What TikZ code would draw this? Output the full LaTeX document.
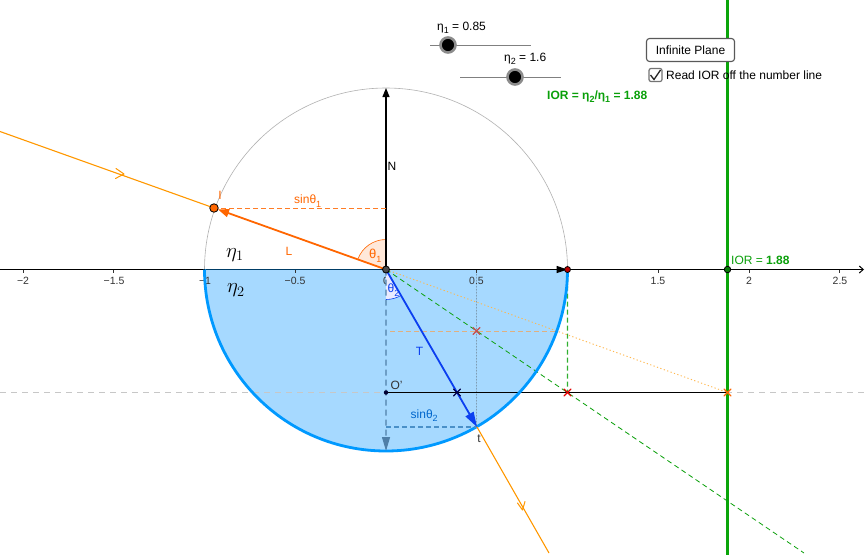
\documentclass[tikz,border=0pt]{standalone}
\usepackage{fontspec}
\setmainfont{Liberation Sans}
\usetikzlibrary{arrows.meta,calc}
\definecolor{ray}{HTML}{FF9800}
\definecolor{dray}{HTML}{FF6600}
\definecolor{tblue}{HTML}{0B3FF0}
\definecolor{cblue}{HTML}{0099FF}
\definecolor{lblue}{HTML}{A6D9FF}
\definecolor{lblT}{HTML}{0066CC}
\definecolor{iorgreen}{HTML}{0AA00A}
\definecolor{linegreen}{HTML}{0AA50A}
\definecolor{dashgreen}{HTML}{30B030}
\definecolor{normdash}{HTML}{4F7FA8}
\definecolor{sindash}{HTML}{4A90C8}
\definecolor{beige}{HTML}{E0B080}
\newcommand{\lowered}[1]{\raisebox{-0.28em}{#1}}
\tikzset{
 lab/.style={font=\fontsize{12}{14}\selectfont,inner sep=0pt},
 tick/.style={font=\fontsize{10.5}{12}\selectfont,inner sep=0pt,text=black!80},
 pt/.style={circle,draw=black,line width=0.8pt,minimum size=6.5pt,inner sep=0pt},
 xmark/.style={line width=1.2pt,line cap=round},
 chev/.style={draw=ray,line width=1pt,line cap=round,line join=round},
 knob/.style={circle,fill=black,draw=black!45,line width=2.6pt,minimum size=15pt,inner sep=0pt},
 sliderline/.style={draw=black!50,line width=0.7pt},
}
\newcommand{\xmk}[3]{\draw[xmark,#1] ($(#2)+(-#3,-#3)$) -- ($(#2)+(#3,#3)$) ($(#2)+(-#3,#3)$) -- ($(#2)+(#3,-#3)$);}
\begin{document}
\begin{tikzpicture}[x=1pt,y=-1pt]
\useasboundingbox (0,0) rectangle (867,555);
\fill[white] (0,0) rectangle (867,555);
\coordinate (O) at (386,269.5);
\coordinate (R) at (567.5,269.5);
\coordinate (L) at (204.5,269.5);
\coordinate (I) at (214,208);
\coordinate (It) at (386,208);
\coordinate (T) at (477,427);
\coordinate (Tf) at (386,427);
\coordinate (Top) at (386,88);
\coordinate (Bot) at (386,451);
\coordinate (OP) at (386,392.5);
\coordinate (Xa) at (457,392.5);
\coordinate (Xb) at (567.5,392.5);
\coordinate (Xc) at (727.5,392.5);
\coordinate (Xd) at (476.5,331);
\coordinate (Xe) at (556,331);
\coordinate (Far) at (0,131.5);
\coordinate (Tfar) at (549,553);
\coordinate (Gfar) at (804,553);
% semicircle and circle
\draw[black!30,line width=0.6pt] (L) arc[start angle=180,end angle=360,radius=181.5];
\fill[lblue] (L) arc[start angle=180,end angle=0,radius=181.5] -- cycle;
% background dashed line
\draw[black!22,dash pattern=on 6pt off 5pt,line width=0.8pt] (0,392.5) -- (867,392.5);
% axis
\draw[black,line width=1pt,-{Straight Barb[length=4pt,width=7pt]}] (0,269.5) -- (864,269.5);
\foreach \x in {-2,-1.5,-1,-0.5,0,0.5,1,1.5,2,2.5}{
  \draw[black!80,line width=0.6pt] ({386+181.5*\x},269.5) -- ({386+181.5*\x},272.5);
}
\node[tick] at (23,280.5) {−2};
\node[tick] at (114,280.5) {−1.5};
\node[tick] at (205,280.5) {−1};
\node[tick] at (295,280.5) {−0.5};
\node[tick] at (386,280.5) {0};
\node[tick] at (476.5,280.5) {0.5};
\node[tick] at (658,280.5) {1.5};
\node[tick] at (749,280.5) {2};
\node[tick] at (840,280.5) {2.5};
% angle wedges
\fill[dray!15] (O) -- ++(0,-30) arc[start angle=270,end angle=199.67,radius=30] -- cycle;
\draw[dray,line width=0.6pt] (386,239.5) arc[start angle=270,end angle=199.67,radius=30];
\fill[blue!8] (O) -- ++(0,30) arc[start angle=90,end angle=60,radius=30] -- cycle;
\draw[tblue,line width=0.6pt] (386,299.5) arc[start angle=90,end angle=60,radius=30];
% construction lines
\draw[black!70,densely dotted,line width=0.5pt] (476.5,269.5) -- (476.52,427);
\draw[beige,dash pattern=on 5pt off 3pt,line width=1pt] (390,331) -- (Xe);
\draw[ray!70,dash pattern=on 1.2pt off 2.4pt,line width=0.9pt] (O) -- (Xc);
\draw[iorgreen,dash pattern=on 5pt off 3.5pt,line width=0.8pt] (O) -- (Gfar);
\draw[dashgreen,dash pattern=on 5pt off 3pt,line width=1.4pt] (R) -- (567.52,392.5);
\draw[black,line width=1pt] (OP) -- (Xc);
% semicircle top and outline
\draw[black!60!cblue,line width=1pt] (L) -- (R);
\draw[black,line width=1pt] (480,269.5) -- (R);
\draw[cblue,line width=2.8pt] (L) arc[start angle=180,end angle=0,radius=181.5];
% green line
\fill[linegreen] (726.4,0) rectangle (728.6,555);
% normal
\draw[black,line width=1.2pt,-{Triangle[length=9pt,width=7pt]}] (O) -- (Top);
\draw[black,line width=1.4pt,-{Triangle[length=11pt,width=7pt]}] (O) -- (R);
% projections
\draw[normdash,dash pattern=on 6pt off 4pt,line width=1.1pt,-{Triangle[length=14pt,width=8pt]}] (O) -- (386.02,451);
\draw[sindash,dash pattern=on 5pt off 3pt,line width=1.1pt] (Tf) -- (T);
\draw[dray!85,dash pattern=on 5pt off 3pt,line width=0.9pt] (It) -- (I);
% rays
\draw[ray,line width=1.1pt] (Far) -- (I);
\draw[ray,line width=1.1pt] (T) -- (Tfar);
\draw[dray,line width=1.8pt,-{Triangle[length=11pt,width=8pt]}] (O) -- ($(I)+(4,1.4)$);
\draw[tblue,line width=1.8pt,-{Triangle[length=15pt,width=9pt]}] (O) -- (T);
% chevrons
\draw[chev] (116,168.5) -- (124,174) -- (115.5,178.5);
\draw[chev] (517.5,503) -- (522.5,510) -- (525,501.5);
% x marks
\xmk{black!70!blue}{Xa}{3.5}
\xmk{red!90!black}{Xb}{3.5}
\xmk{dray}{Xc}{3.5}
\xmk{red!70!black!70}{Xd}{3.5}
% points
\node[pt,fill=dray,minimum size=8.5pt] (Ipt) at (I) {};
\node[pt,fill=black!70,minimum size=7pt] (Opt) at (O) {};
\node[pt,fill=red!75!black,minimum size=6pt] (Rpt) at (R) {};
\node[pt,fill=iorgreen!75!black,minimum size=6.5pt] (Gpt) at (727.5,269.5) {};
\node[circle,fill=black!80!blue,inner sep=0pt,minimum size=4.5pt] (OPpt) at (OP) {};
% labels
\node[lab,text=dray] at (220,195.5) {I};
\node[lab,text=dray] at (289,251.5) {L};
\node[lab,text=black] at (392,166) {N};
\node[lab,text=tblue] at (419.5,351) {T};
\node[lab,text=black!80] at (479,439) {t};
\node[lab,text=black!80] at (396.5,385) {O'};
\node[lab,text=dray,anchor=west] at (294,201) {sinθ\lowered{\small 1}};
\node[lab,text=lblT,anchor=west] at (410.5,415.5) {sinθ\lowered{\small 2}};
\node[lab,text=dray,anchor=west,font=\fontsize{13}{15}\selectfont] at (369,256) {θ\lowered{\small 1}};
\node[lab,text=tblue,anchor=west] at (387.5,290) {θ\lowered{\small 2}};
\node[inner sep=0pt,font=\fontsize{20}{22}\selectfont] at (235,255) {$\eta_1$};
\node[inner sep=0pt,font=\fontsize{20}{22}\selectfont] at (236,290.5) {$\eta_2$};
\node[lab,text=iorgreen,anchor=west] at (731,260) {IOR = \textbf{1.88}};
\node[lab,text=iorgreen,anchor=west,font=\bfseries\fontsize{12}{14}\selectfont] at (547,96.5) {IOR = η\lowered{\small 2}/η\lowered{\small 1} = 1.88};
% sliders
\draw[sliderline] (430,45) -- (531,45);
\draw[sliderline] (460,77) -- (561,77);
\node[knob] (k1) at (448,45) {};
\node[knob] (k2) at (515,77) {};
\node[lab,anchor=west] at (437,27.5) {η\lowered{\small 1} = 0.85};
\node[lab,anchor=west] at (504,59) {η\lowered{\small 2} = 1.6};
% button
\node[draw=black!65,line width=1.1pt,rounded corners=3pt,fill=white,minimum width=88pt,minimum height=23pt,inner sep=0pt,font=\fontsize{12}{14}\selectfont] (btn) at (690.5,50) {Infinite Plane};
% checkbox
\node[draw=black!55,fill=white,line width=1.2pt,rounded corners=2pt,minimum size=13pt,inner sep=0pt] (cb) at (655.5,75) {};
\draw[black!85,line width=1.3pt] (650.5,75) -- (654,79.5) -- (660.5,70);
\node[lab,anchor=west] at (666,75) {Read IOR off the number line};
\end{tikzpicture}
\end{document}
